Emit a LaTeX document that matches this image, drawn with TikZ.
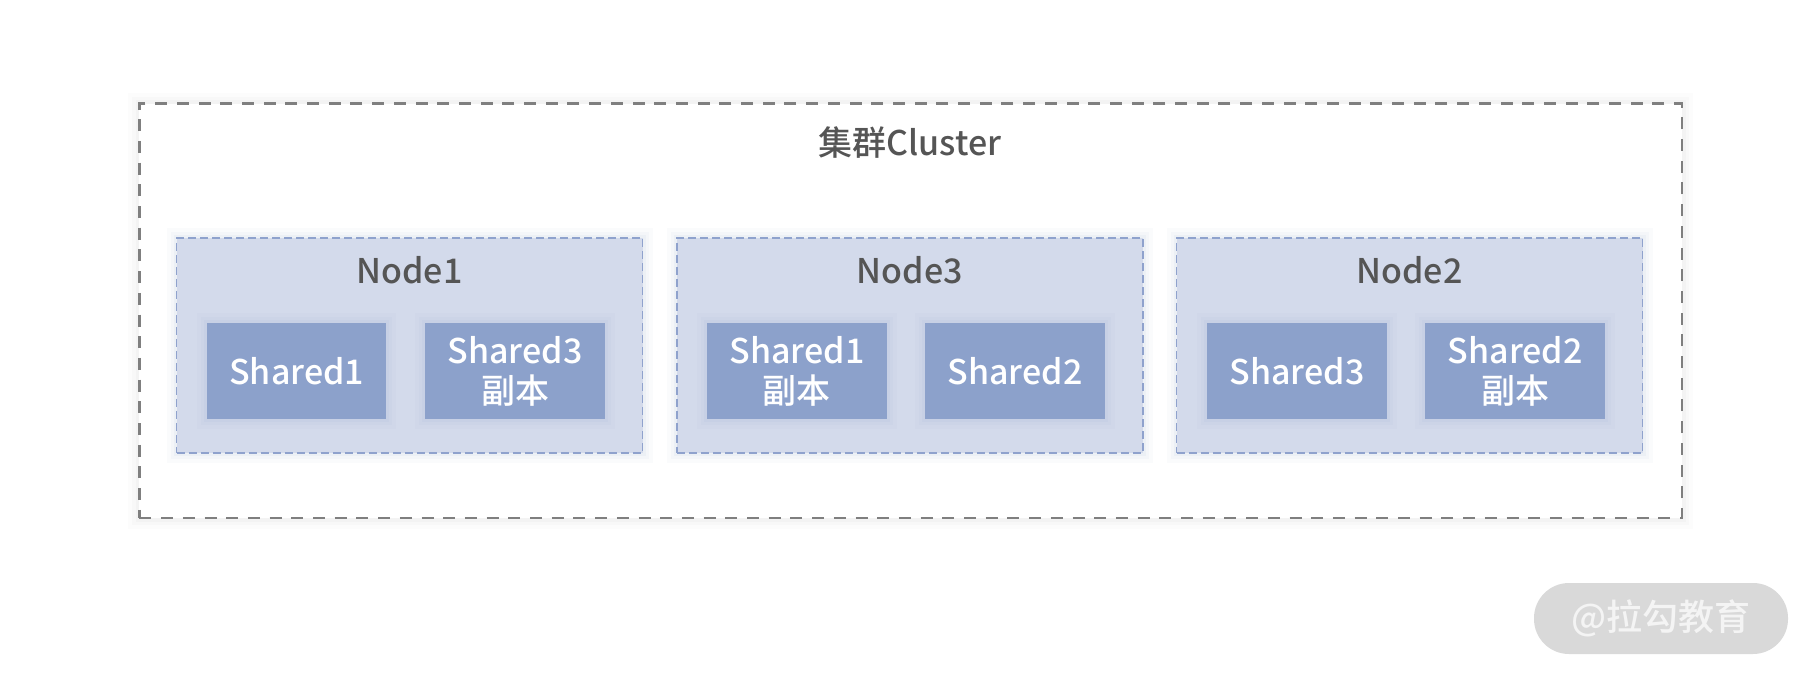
\documentclass[tikz,border=0pt]{standalone}
\usepackage{fontspec}
\setmainfont{Noto Sans CJK SC}[UprightFont=* Medium]
\definecolor{nodefill}{HTML}{D3DAEB}
\definecolor{nodeline}{HTML}{8FA2CD}
\definecolor{sharefill}{HTML}{8CA1CB}
\definecolor{txt}{HTML}{555555}
\definecolor{clusterline}{HTML}{7F7F7F}
\definecolor{wmfill}{HTML}{D9D9D9}
\definecolor{wmtext}{HTML}{F4F4F4}
\definecolor{glowblue}{HTML}{8CA1CB}
\tikzset{
  glowg/.style={
    preaction={draw=black, solid, line width=22pt, opacity=0.012},
    preaction={draw=black, solid, line width=14pt, opacity=0.015},
    preaction={draw=black, solid, line width=7pt, opacity=0.02}},
  glowb/.style={
    preaction={draw=glowblue, solid, line width=20pt, opacity=0.04},
    preaction={draw=glowblue, solid, line width=12pt, opacity=0.05},
    preaction={draw=glowblue, solid, line width=6pt, opacity=0.07}},
  clusterbox/.style={rectangle, glowg, fill=white, draw=clusterline, line width=2.6pt,
    dash pattern=on 12pt off 9.7pt, inner sep=0pt, outer sep=0pt},
  nodebox/.style={rectangle, glowb, fill=nodefill, draw=nodeline, line width=1.6pt,
    dash pattern=on 8pt off 4pt, minimum width=466pt, minimum height=215pt,
    inner sep=0pt, outer sep=0pt},
  sharebox/.style={rectangle, glowb, fill=sharefill, minimum width=179.5pt, minimum height=96pt,
    inner sep=0pt, outer sep=0pt, text=white, align=center,
    font=\fontsize{34}{40}\selectfont},
  titletext/.style={text=txt, font=\fontsize{34}{40}\selectfont, anchor=base, inner sep=0pt},
  wmbox/.style={rectangle, fill=wmfill, rounded corners=35pt, minimum width=254pt,
    minimum height=71pt, inner sep=0pt, text=wmtext, font=\fontsize{36}{40}\selectfont}
}
\begin{document}
\begin{tikzpicture}[x=1pt,y=-1pt]
\useasboundingbox (0,0) rectangle (1814,679);
\fill[white] (0,0) rectangle (1814,679);
\node[clusterbox, minimum width=1542.6pt, minimum height=414.5pt] (cluster) at (910.7,310.8) {};
\node[titletext] (clustertitle) at (910,156) {集群Cluster};

\node[nodebox] (node1) at (409.5,345.4) {};
\node[nodebox] (node3) at (909.9,345.4) {};
\node[nodebox] (node2) at (1409.6,345.4) {};

\node[titletext] (node1title) at (409.5,283.7) {Node1};
\node[titletext] (node3title) at (909.9,283.7) {Node3};
\node[titletext] (node2title) at (1409.6,283.7) {Node2};

\node[sharebox] (n1s1) at (296.7,371) {Shared1};
\node[sharebox] (n1s3) at (515.1,371) {Shared3\\副本};
\node[sharebox] (n3s1) at (796.9,371) {Shared1\\副本};
\node[sharebox] (n3s2) at (1014.9,371) {Shared2};
\node[sharebox] (n2s3) at (1297.1,371) {Shared3};
\node[sharebox] (n2s2) at (1515.2,371) {Shared2\\副本};

\node[wmbox] (wm) at (1661,618.5) {@拉勾教育};
\end{tikzpicture}
\end{document}
